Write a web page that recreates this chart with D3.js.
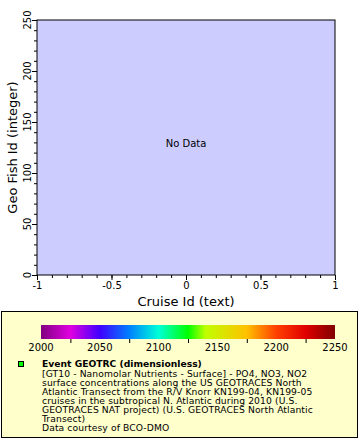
<!DOCTYPE html>
<html><head><meta charset="utf-8">
<script src="https://cdn.jsdelivr.net/npm/d3@7"></script>
<style>body{margin:0;background:#fff}svg{display:block;font-family:"DejaVu Sans",sans-serif}</style>
</head><body><svg id="c" width="360" height="440"></svg>
<script>
const xDomain = [-1, 1];
const yDomain = [0, 250];
const xTicks = [-1, -0.5, 0, 0.5, 1];
const yTicks = [0, 50, 100, 150, 200, 250];
const colorTicks = [2000, 2050, 2100, 2150, 2200, 2250];
const colorStops = [2000, 2025, 2050, 2075, 2100, 2125, 2140, 2175, 2200, 2225, 2250];
const colorValues = ["#800080","#e000e0","#4000ff","#0080ff","#00ffd8","#00ff00","#c0ff00","#ffc000","#ff4000","#e00000","#800000"];
const legendTitle = "Event GEOTRC (dimensionless)";
const legendLines = [
  "[GT10 - Nanomolar Nutrients - Surface] - PO4, NO3, NO2",
  "surface concentrations along the US GEOTRACES North",
  "Atlantic Transect from the R/V Knorr KN199-04, KN199-05",
  "cruises in the subtropical N. Atlantic during 2010 (U.S.",
  "GEOTRACES NAT project) (U.S. GEOTRACES North Atlantic",
  "Transect)",
  "Data courtesy of BCO-DMO"
];

const svg = d3.select("#c");
const L = 37, R = 335, T = 20, B = 275;
const x = d3.scaleLinear().domain(xDomain).range([L, R]);
const y = d3.scaleLinear().domain(yDomain).range([B, T]);

svg.append("rect").attr("x", L).attr("y", T).attr("width", R-L).attr("height", B-T)
  .attr("fill", "#ccccff").attr("stroke", "#000").attr("stroke-width", 1);

svg.append("text").attr("x", (L+R)/2).attr("y", 147).attr("text-anchor","middle")
  .attr("font-size", 10).text("No Data");

// x axis
const gx = svg.append("g").attr("transform", `translate(0,${B})`);
gx.call(d3.axisBottom(x).tickValues(d3.range(-10, 11).map(d => d/10)).tickSize(3).tickFormat(""))
  .call(g => g.select(".domain").remove());
gx.append("g").call(d3.axisBottom(x).tickValues(xTicks).tickSize(5).tickPadding(2).tickFormat(d => String(d)))
  .call(g => g.select(".domain").remove())
  .call(g => g.selectAll("text").attr("font-size", 10).attr("fill","#000").attr("font-family","DejaVu Sans"));
gx.selectAll("line").attr("stroke","#000");

// y axis
const gy = svg.append("g").attr("transform", `translate(${L},0)`);
gy.call(d3.axisLeft(y).tickValues(d3.range(0, 251, 10)).tickSize(3).tickFormat(""))
  .call(g => g.select(".domain").remove());
gy.append("g").call(d3.axisLeft(y).tickValues(yTicks).tickSize(5).tickFormat(""))
  .call(g => g.select(".domain").remove());
gy.selectAll("line").attr("stroke","#000");
svg.selectAll(".ylab").data(yTicks).enter().append("text").attr("class","ylab")
  .attr("transform", d => `translate(${L-5},${y(d)}) rotate(-90)`)
  .attr("text-anchor","middle").attr("font-size", 10).attr("fill","#000").attr("dy", "-0.15em")
  .text(d => String(d));

// axis titles
svg.append("text").attr("transform", `translate(17,${(T+B)/2}) rotate(-90)`)
  .attr("text-anchor","middle").attr("font-size", 13).text("Geo Fish Id (integer)");
svg.append("text").attr("x", 186).attr("y", 306).attr("text-anchor","middle")
  .attr("font-size", 13).text("Cruise Id (text)");

// legend box
svg.append("rect").attr("x", 1.5).attr("y", 311.5).attr("width", 356).attr("height", 126)
  .attr("fill", "#ffffcc").attr("stroke", "#000").attr("stroke-width", 1);

// colorbar
const cx = d3.scaleLinear().domain([colorStops[0], colorStops[colorStops.length-1]]).range([41, 335]);
const defs = svg.append("defs");
const grad = defs.append("linearGradient").attr("id","cg").attr("x1","0%").attr("x2","100%");
colorStops.forEach((s, i) => grad.append("stop")
  .attr("offset", ((cx(s)-41)/(335-41)*100) + "%").attr("stop-color", colorValues[i]));
svg.append("rect").attr("x", 41).attr("y", 325).attr("width", 294).attr("height", 14).attr("fill","url(#cg)");
const gc = svg.append("g").attr("transform","translate(0,339)");
gc.call(d3.axisBottom(cx).tickValues(d3.range(2025, 2250, 50)).tickSize(4).tickFormat(""))
  .call(g => g.select(".domain").remove());
gc.selectAll("line").attr("stroke","#000");
svg.selectAll(".clab").data(colorTicks).enter().append("text").attr("class","clab")
  .attr("x", d => cx(d)).attr("y", 351).attr("text-anchor","middle").attr("font-size", 10).text(d => d);

// legend entry
svg.append("rect").attr("x", 18.5).attr("y", 361.5).attr("width", 5).attr("height", 5)
  .attr("fill", "#00ff00").attr("stroke", "#000");
svg.append("text").attr("x", 42).attr("y", 367).attr("font-size", 9.2).attr("font-weight","bold").text(legendTitle);
svg.selectAll(".ll").data(legendLines).enter().append("text").attr("class","ll")
  .attr("x", 42).attr("y", (d, i) => 376.5 + i*9.1).attr("font-size", 9.2).attr("letter-spacing", 0.1).text(d => d);
</script></body></html>
